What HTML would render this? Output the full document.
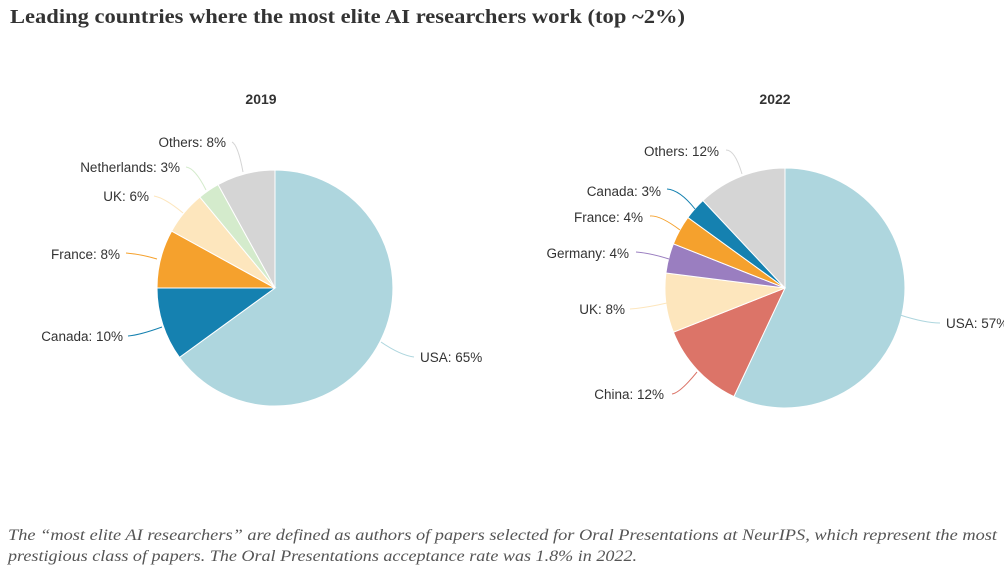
<!DOCTYPE html>
<html><head><meta charset="utf-8"><style>
body{margin:0;background:#fff;width:1004px;height:571px;overflow:hidden}
svg{display:block}
</style></head><body>
<svg width="1004" height="571" xmlns="http://www.w3.org/2000/svg">
<text x="10" y="23" font-family="Liberation Serif, serif" font-weight="bold" font-size="20" fill="#333" textLength="675" lengthAdjust="spacingAndGlyphs">Leading countries where the most elite AI researchers work (top ~2%)</text>
<g font-family="Liberation Sans, sans-serif" font-size="14" font-weight="bold" fill="#333" text-anchor="middle">
<text x="261" y="104">2019</text><text x="775" y="104">2022</text></g>
<g stroke="#fff" stroke-width="1">
<path d="M275,288 L275,170 A118,118 0 1,1 179.5,357.4 Z" fill="#aed6de"/>
<path d="M275,288 L179.5,357.4 A118,118 0 0,1 157,288 Z" fill="#1581b0"/>
<path d="M275,288 L157,288 A118,118 0 0,1 171.6,231.1 Z" fill="#f5a12d"/>
<path d="M275,288 L171.6,231.1 A118,118 0 0,1 199.8,197.1 Z" fill="#fde6bd"/>
<path d="M275,288 L199.8,197.1 A118,118 0 0,1 218.1,184.6 Z" fill="#d4ebcc"/>
<path d="M275,288 L218.1,184.6 A118,118 0 0,1 275,170 Z" fill="#d5d5d5"/>

<path d="M785,288 L785,168 A120,120 0 1,1 733.9,396.6 Z" fill="#aed6de"/>
<path d="M785,288 L733.9,396.6 A120,120 0 0,1 673.4,332.2 Z" fill="#dc7468"/>
<path d="M785,288 L673.4,332.2 A120,120 0 0,1 665.9,273 Z" fill="#fde6bd"/>
<path d="M785,288 L665.9,273 A120,120 0 0,1 673.4,243.8 Z" fill="#9a7ec0"/>
<path d="M785,288 L673.4,243.8 A120,120 0 0,1 687.9,217.5 Z" fill="#f5a12d"/>
<path d="M785,288 L687.9,217.5 A120,120 0 0,1 702.9,200.5 Z" fill="#1581b0"/>
<path d="M785,288 L702.9,200.5 A120,120 0 0,1 785,168 Z" fill="#d5d5d5"/>
</g>
<g fill="none" stroke-width="1">
<path d="M381,342 Q400,355 414,357" stroke="#aed6de"/>
<path d="M162,327 Q140,335 128,336" stroke="#1581b0"/>
<path d="M157,259 Q140,254 126,253" stroke="#f5a12d"/>
<path d="M183,213 Q165,198 154,196" stroke="#fde6bd"/>
<path d="M206,190 Q195,168 186,167" stroke="#d4ebcc"/>
<path d="M243,172 Q238,145 232,142" stroke="#d5d5d5"/>
<path d="M900,315 Q925,323 940,323" stroke="#aed6de"/>
<path d="M697,372 Q680,393 672,394" stroke="#dc7468"/>
<path d="M667,303 Q645,308 630,309" stroke="#fde6bd"/>
<path d="M669,259 Q650,253 636,252" stroke="#9a7ec0"/>
<path d="M680,230 Q660,215 650,216" stroke="#f5a12d"/>
<path d="M695,209 Q680,190 667,189" stroke="#1581b0"/>
<path d="M742,174 Q735,150 726,150" stroke="#d5d5d5"/>
</g>
<g font-family="Liberation Sans, sans-serif" font-size="13.5" fill="#333">
<text x="420" y="362">USA: 65%</text>
<text x="123" y="341" text-anchor="end">Canada: 10%</text>
<text x="120" y="259" text-anchor="end">France: 8%</text>
<text x="149" y="201" text-anchor="end">UK: 6%</text>
<text x="180" y="172" text-anchor="end">Netherlands: 3%</text>
<text x="226" y="147" text-anchor="end">Others: 8%</text>
<text x="946" y="328">USA: 57%</text>
<text x="664" y="399" text-anchor="end">China: 12%</text>
<text x="625" y="314" text-anchor="end">UK: 8%</text>
<text x="629" y="258" text-anchor="end">Germany: 4%</text>
<text x="643" y="222" text-anchor="end">France: 4%</text>
<text x="661" y="196" text-anchor="end">Canada: 3%</text>
<text x="719" y="156" text-anchor="end">Others: 12%</text>
</g>
<g font-family="Liberation Serif, serif" font-style="italic" font-size="16" fill="#555">
<text x="8" y="540" textLength="989" lengthAdjust="spacingAndGlyphs">The “most elite AI researchers” are defined as authors of papers selected for Oral Presentations at NeurIPS, which represent the most</text>
<text x="8" y="561" textLength="629" lengthAdjust="spacingAndGlyphs">prestigious class of papers. The Oral Presentations acceptance rate was 1.8% in 2022.</text>
</g>
</svg>
</body></html>
